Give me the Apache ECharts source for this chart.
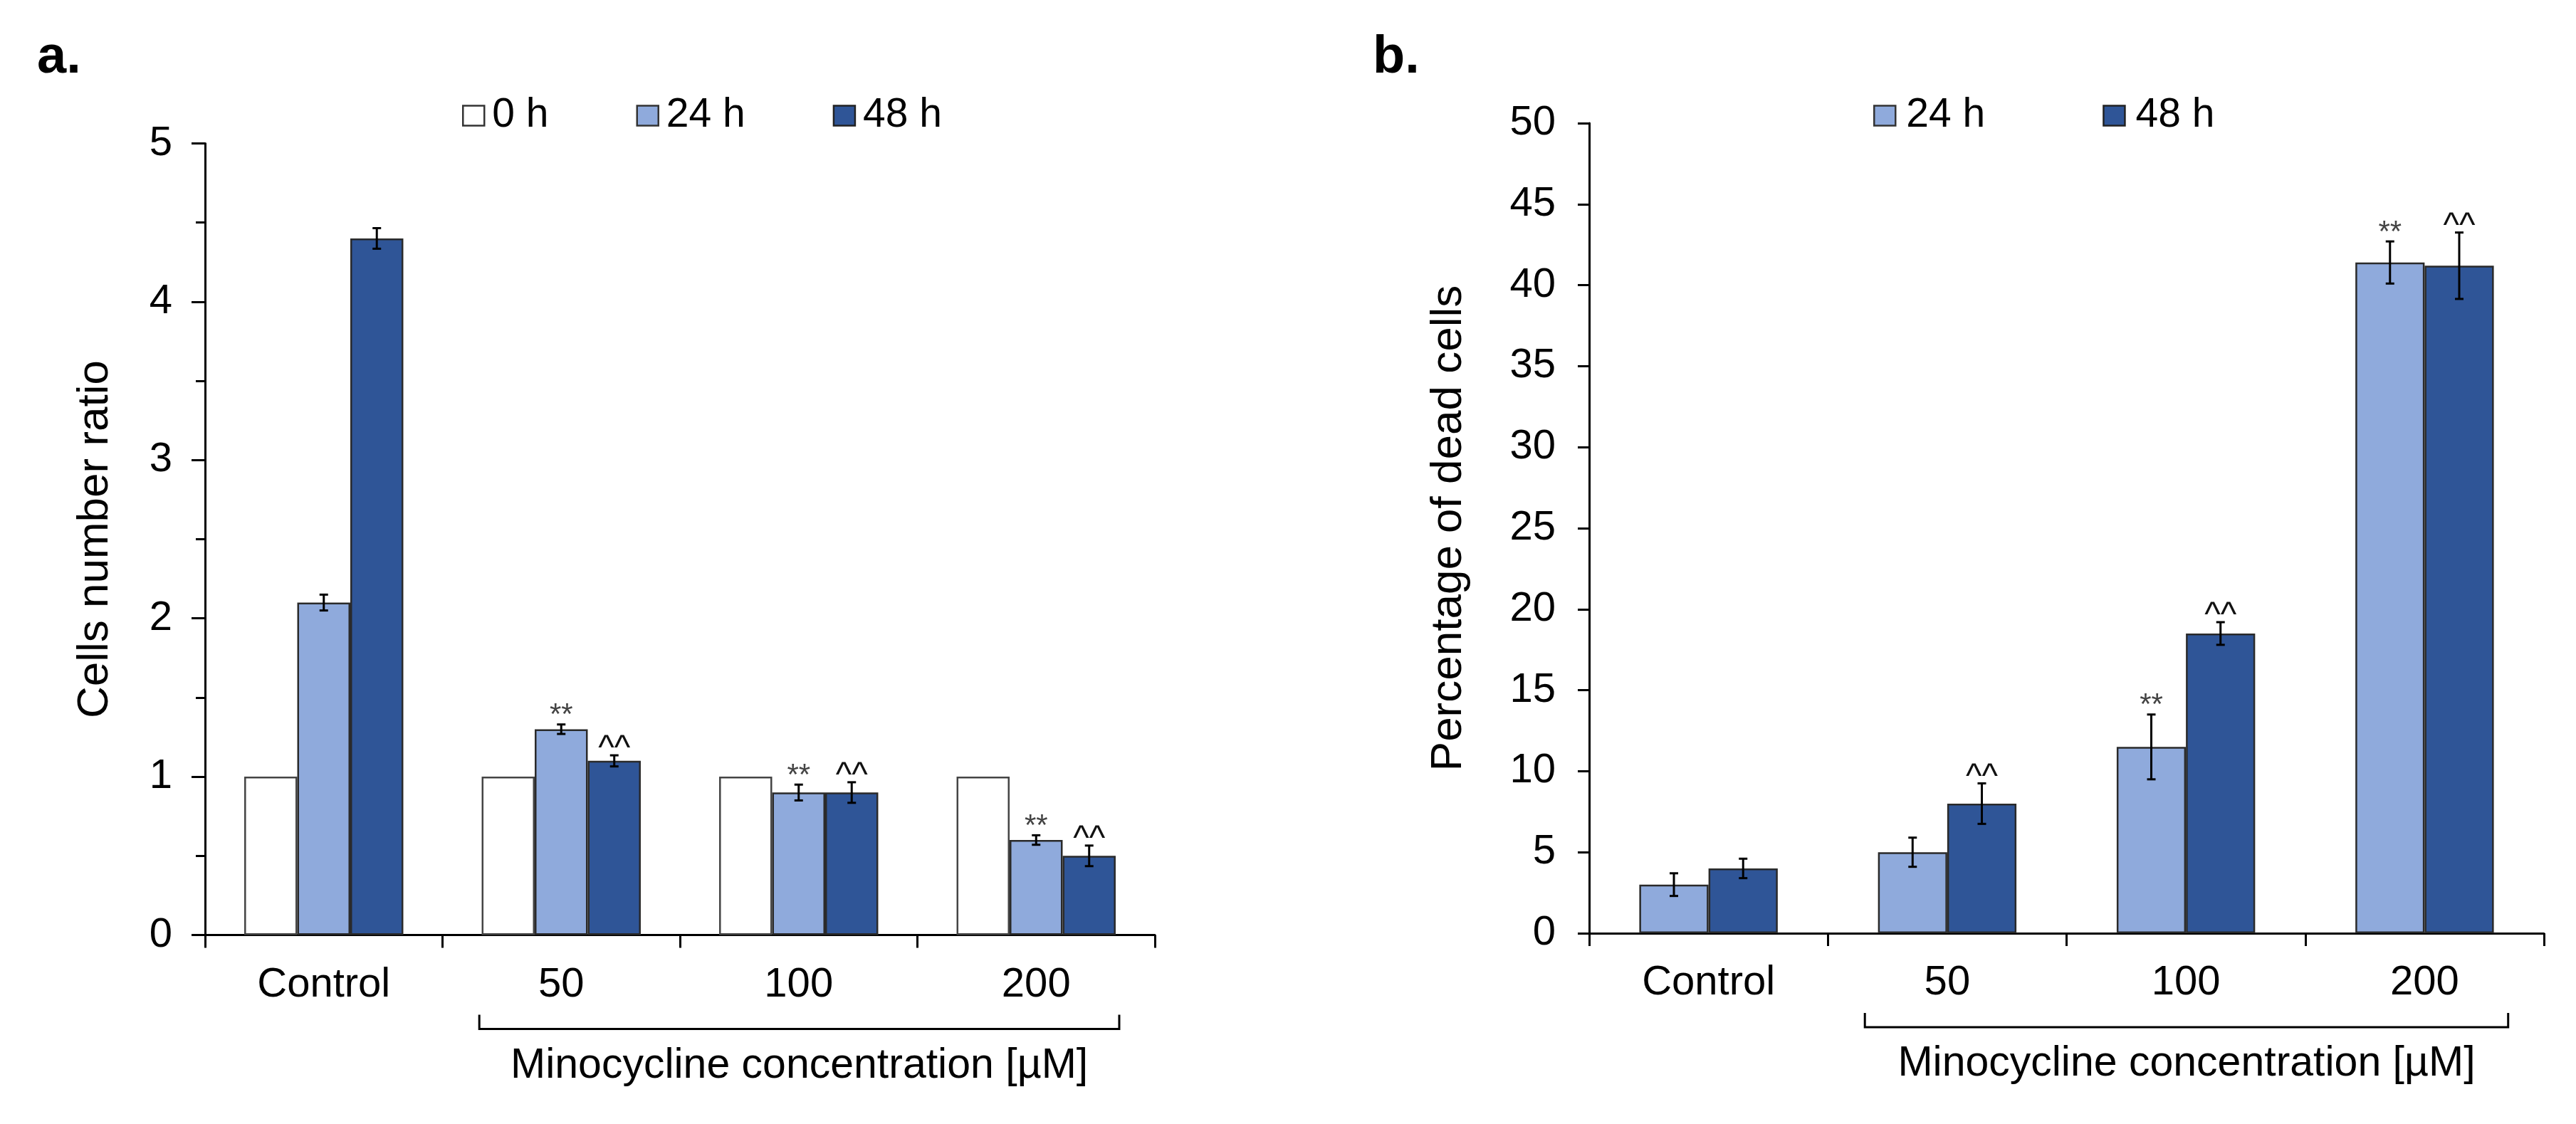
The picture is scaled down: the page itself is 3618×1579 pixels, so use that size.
<!DOCTYPE html>
<html>
<head>
<meta charset="utf-8">
<script src="https://cdn.jsdelivr.net/npm/echarts@6/dist/echarts.min.js"></script>
<style>
html,body{margin:0;padding:0;background:#fff;}
#chart{width:3618px;height:1579px;}
</style>
</head>
<body>
<div id="chart"></div>
<script>
// ---- data ----
const categories = ['Control', '50', '100', '200'];
// panel a: cells number ratio
const a0h = [1, 1, 1, 1];
const a24h = [2.1, 1.3, 0.9, 0.6];
const a48h = [4.4, 1.1, 0.9, 0.5];
const a24hErr = [0.05, 0.03, 0.05, 0.03];
const a48hErr = [0.065, 0.035, 0.065, 0.065];
const a24hSig = ['', '**', '**', '**'];
const a48hSig = ['', '^^', '^^', '^^'];
// panel b: percentage of dead cells
const b24h = [3, 5, 11.5, 41.4];
const b48h = [4, 8, 18.5, 41.2];
const b24hErr = [0.7, 0.9, 2.0, 1.3];
const b48hErr = [0.6, 1.25, 0.7, 2.05];
const b24hSig = ['', '', '**', '**'];
const b48hSig = ['', '^^', '^^', '^^'];
const aTicks = [0, 1, 2, 3, 4, 5];
const bTicks = [0, 5, 10, 15, 20, 25, 30, 35, 40, 45, 50];

const FONT = "'Liberation Sans', Arial, sans-serif";
const LIGHT = '#8FAADC', DARK = '#2F5597';
const BORDER = '#2a2a2a';

function errData(vals, errs) {
  return vals.map((v, i) => [i, v - errs[i], v + errs[i]]);
}

function errSeries(gridIdx, pos, n, gap, vals, errs, sigs) {
  return {
    type: 'custom',
    xAxisIndex: gridIdx, yAxisIndex: gridIdx,
    z: 10,
    silent: true,
    data: errData(vals, errs),
    renderItem: function (params, api) {
      const cat = api.value(0), lo = api.value(1), hi = api.value(2);
      const bw = api.size([1, 0])[0];
      const barW = bw * (1 - gap) / n;
      const cx = api.coord([cat, 0])[0] + (pos - (n - 1) / 2) * barW;
      const yHi = api.coord([cat, hi])[1];
      const yLo = api.coord([cat, lo])[1];
      const cap = 6;
      const st = { stroke: '#000', lineWidth: 3 };
      const children = [
        { type: 'line', shape: { x1: cx, y1: yHi, x2: cx, y2: yLo }, style: st },
        { type: 'line', shape: { x1: cx - cap, y1: yHi, x2: cx + cap, y2: yHi }, style: st },
        { type: 'line', shape: { x1: cx - cap, y1: yLo, x2: cx + cap, y2: yLo }, style: st }
      ];
      const s = sigs[params.dataIndex];
      if (s) {
        const isStar = s.indexOf('*') >= 0;
        children.push({
          type: 'text',
          style: {
            text: s, x: cx, y: yHi - (isStar ? 12 : 8),
            align: 'center', verticalAlign: 'middle',
            font: (isStar ? '42px ' : '48px ') + FONT,
            fill: isStar ? '#444' : '#111'
          }
        });
      }
      return { type: 'group', children: children };
    }
  };
}

function barSeries(name, gridIdx, vals, color, border, gap) {
  const s = {
    name: name, type: 'bar', xAxisIndex: gridIdx, yAxisIndex: gridIdx,
    data: vals, barGap: '0%',
    itemStyle: { color: color, borderColor: border, borderWidth: 2.5 },
    emphasis: { disabled: true }
  };
  if (gap != null) s.barCategoryGap = gap;
  return s;
}

const axisLineStyle = { color: '#000', width: 3 };
const tickLabel = { fontFamily: FONT, fontSize: 58, color: '#000' };

const chart = echarts.init(document.getElementById('chart'), null, { renderer: 'canvas' });

const gapA = 0.33, gapB = 0.42;

const option = {
  animation: false,
  backgroundColor: '#fff',
  grid: [
    { left: 288, top: 201.5, width: 1334, height: 1112 },
    { left: 2232, top: 173, width: 1341, height: 1138 }
  ],
  legend: [
    {
      data: [
        { name: '0 h', itemStyle: { color: '#fff', borderColor: '#333', borderWidth: 2.5 } },
        { name: '24 h', itemStyle: { color: LIGHT, borderColor: '#333', borderWidth: 2.5 } },
        { name: '48 h', itemStyle: { color: DARK, borderColor: '#222', borderWidth: 2.5 } }
      ],
      left: 649, top: 134, padding: 0, itemGap: 123,
      itemWidth: 30, itemHeight: 28, icon: 'rect',
      selectedMode: false,
      textStyle: { fontFamily: FONT, fontSize: 57, color: '#000', padding: [0, 0, 0, 6] }
    },
    {
      data: [
        { name: '24 h', itemStyle: { color: LIGHT, borderColor: '#333', borderWidth: 2.5 } },
        { name: '48 h', itemStyle: { color: DARK, borderColor: '#222', borderWidth: 2.5 } }
      ],
      left: 2631, top: 134, padding: 0, itemGap: 165,
      itemWidth: 30, itemHeight: 28, icon: 'rect',
      selectedMode: false,
      textStyle: { fontFamily: FONT, fontSize: 57, color: '#000', padding: [0, 0, 0, 10] }
    }
  ],
  xAxis: [0, 1].map(g => ({
    type: 'category', gridIndex: g, data: categories,
    axisLine: { show: true, lineStyle: axisLineStyle },
    axisTick: { show: true, alignWithLabel: false, length: 18, lineStyle: axisLineStyle },
    axisLabel: Object.assign({ margin: 41 }, tickLabel),
    splitLine: { show: false }
  })),
  yAxis: [
    {
      type: 'value', gridIndex: 0, min: 0, max: 5, interval: 1,
      name: 'Cells number ratio', nameLocation: 'middle', nameGap: 123,
      nameTextStyle: { fontFamily: FONT, fontSize: 62, color: '#000' },
      axisLine: { show: true, lineStyle: axisLineStyle },
      axisTick: { show: true, length: 19, lineStyle: axisLineStyle },
      minorTick: { show: true, splitNumber: 2, length: 13, lineStyle: axisLineStyle },
      axisLabel: Object.assign({ margin: 46, formatter: v => (aTicks.indexOf(v) >= 0 ? String(v) : '') }, tickLabel),
      splitLine: { show: false }, minorSplitLine: { show: false }
    },
    {
      type: 'value', gridIndex: 1, min: 0, max: 50, interval: 5,
      name: 'Percentage of dead cells', nameLocation: 'middle', nameGap: 166,
      nameTextStyle: { fontFamily: FONT, fontSize: 62, color: '#000' },
      axisLine: { show: true, lineStyle: axisLineStyle },
      axisTick: { show: true, length: 16, lineStyle: axisLineStyle },
      axisLabel: Object.assign({ margin: 47, formatter: v => (bTicks.indexOf(v) >= 0 ? String(v) : '') }, tickLabel),
      splitLine: { show: false }
    }
  ],
  series: [
    barSeries('0 h', 0, a0h, '#fff', '#444', null),
    barSeries('24 h', 0, a24h, LIGHT, BORDER, null),
    barSeries('48 h', 0, a48h, DARK, BORDER, (gapA * 100) + '%'),
    barSeries('24 h', 1, b24h, LIGHT, BORDER, null),
    barSeries('48 h', 1, b48h, DARK, BORDER, (gapB * 100) + '%'),
    errSeries(0, 1, 3, gapA, a24h, a24hErr, a24hSig),
    errSeries(0, 2, 3, gapA, a48h, a48hErr, a48hSig),
    errSeries(1, 0, 2, gapB, b24h, b24hErr, b24hSig),
    errSeries(1, 1, 2, gapB, b48h, b48hErr, b48hSig)
  ]
};

chart.setOption(option);

// brackets + panel letters (layout annotations), positioned from the axes
function bracket(g) {
  const c1 = chart.convertToPixel({ xAxisIndex: g }, categories[1]);
  const c3 = chart.convertToPixel({ xAxisIndex: g }, categories[3]);
  const cw = (c3 - c1) / 2;
  const x1 = c1 - 0.345 * cw, x2 = c3 + 0.35 * cw;
  const y0 = chart.convertToPixel({ yAxisIndex: g }, 0);
  const yH = y0 + 132, yT = y0 + 112;
  return [
    { type: 'polyline', shape: { points: [[x1, yT], [x1, yH], [x2, yH], [x2, yT]] },
      style: { stroke: '#000', lineWidth: 3, fill: null } },
    { type: 'text', style: { text: 'Minocycline concentration [µM]', x: (x1 + x2) / 2, y: yH + 52,
      align: 'center', verticalAlign: 'middle', font: '59px ' + FONT, fill: '#000' } }
  ];
}

chart.setOption({
  graphic: [].concat(
    bracket(0), bracket(1),
    [
      { type: 'text', style: { text: 'a.', x: 52, y: 82, verticalAlign: 'middle',
        font: 'bold 74px ' + FONT, fill: '#000' } },
      { type: 'text', style: { text: 'b.', x: 1928, y: 82, verticalAlign: 'middle',
        font: 'bold 74px ' + FONT, fill: '#000' } }
    ]
  )
});
</script>
</body>
</html>
